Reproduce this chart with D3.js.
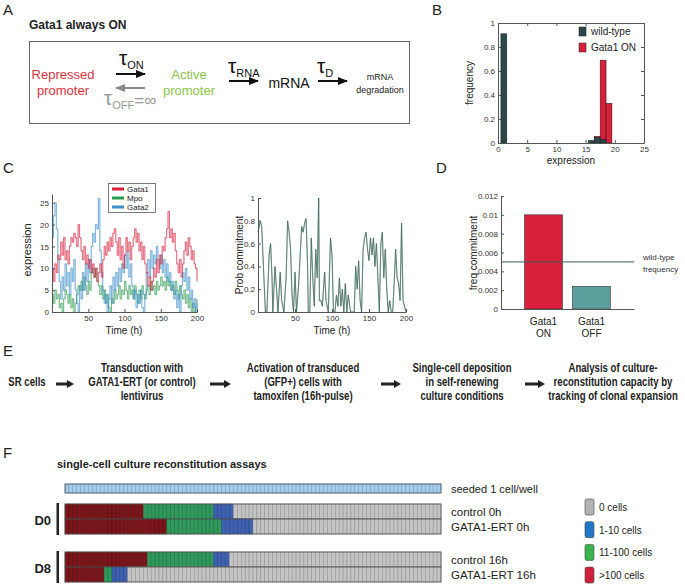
<!DOCTYPE html>
<html>
<head>
<meta charset="utf-8">
<script src="https://cdn.jsdelivr.net/npm/d3@7"></script>
<style>
body{margin:0;background:#fff}
svg{font-family:"Liberation Sans",Arial,sans-serif}
.ax path,.ax line{stroke:#555}
.ax text{fill:#333;font-size:8px}
</style>
</head>
<body>
<div id="fig"></div>
<script>
// ---- panel B: expression histogram
var histWtBins = [1, 16, 17, 18];
var histWtFreq = [0.91, 0.02, 0.045, 0.03];
var histOnBins = [17, 18, 19];
var histOnFreq = [0.055, 0.69, 0.33];
var histLegend = ["wild-type", "Gata1 ON"];

// ---- panel C: simulated expression (sampled every 2 h, 0..200 h)
var gata1Expr = [10,7,11,9,13,12,16,13,17,12,14,11,15,17,16,18,17,15,20,17,14,12,15,11,13,10,12,9,11,8,10,7,9,11,8,12,15,13,16,14,17,15,18,19,16,13,17,12,15,10,13,17,14,16,12,15,17,19,16,18,14,16,12,15,11,9,6,8,5,7,10,8,12,9,13,11,15,14,17,19,23,17,19,16,18,14,11,9,12,8,11,14,16,13,17,15,12,14,11,10,7];
var mpoExpr = [4,2,5,3,4,1,2,0,3,5,4,2,4,1,3,0,2,4,6,5,7,5,8,6,4,7,5,9,10,8,10,7,6,4,6,3,5,2,4,1,0,3,2,5,3,4,6,3,5,4,7,5,3,6,4,5,3,6,4,2,5,3,6,4,3,5,6,4,7,5,6,4,7,5,6,8,6,7,5,8,6,7,5,6,4,7,5,3,6,4,3,5,2,4,1,3,0,2,0,1,3];
var gata2Expr = [17,22,25,19,12,7,3,8,5,11,6,9,4,10,7,12,5,2,0,6,3,9,5,11,7,12,9,15,18,16,20,19,26,14,9,5,2,4,0,3,6,2,8,5,9,6,10,7,11,9,13,10,14,8,11,6,3,5,1,4,2,5,1,0,4,9,12,8,14,10,13,11,15,12,10,13,9,12,8,11,7,9,5,7,3,5,1,4,0,6,9,7,10,5,8,3,5,1,3,0,2];
var exprSeries = ["Gata1", "Mpo", "Gata2"];

// ---- panel C: probability of commitment
var probTime = [0,3,5,8,10,12,15,17,19,20,23,25,27,30,32,35,38,40,42,44,46,48,50,52,55,57,59,61,63,65,67,68,70,72,74,76,78,80,82,83,85,87,90,92,95,98,100,102,104,106,108,110,112,114,116,118,120,122,125,128,130,132,134,136,138,140,142,144,146,148,150,152,154,156,158,160,162,164,166,168,170,172,174,176,178,180,182,184,186,188,190,192,194,196,198,200];
var probValue = [0.7,0.8,0.75,0.3,0,0,0.5,0.6,0.3,0,0.4,0.2,0,0.35,0.1,0,0.3,0.8,0.7,0.55,0.15,0,0.35,0,0.25,0.5,0.75,0.7,0.78,0.82,0.4,0,0,0.65,0.3,0.05,0.55,0.3,1.0,0.1,0.1,0.05,0.35,0.1,0,0.65,0.5,0,0,0.15,0.05,0.3,0.05,0.2,0,0.25,0,0.15,0,0,0,0.4,0.2,0.45,0.1,0,0.55,0.65,0.7,0.55,0.45,0.65,0.5,0.65,0.4,0.6,0.3,0,0.6,0.7,0.3,0.55,0.2,0,0.1,0,0,0.25,0.55,0.3,0.25,0.1,0.78,0.1,0.05,0];

// ---- panel D: commitment frequency
var commitCats = ["Gata1 ON", "Gata1 OFF"];
var commitFreq = [0.01, 0.0024];
var wildTypeFreq = 0.005;

// ---- panel E: protocol steps
var protocolSteps = [
    ["SR cells"],
    ["Transduction with", "GATA1-ERT (or control)", "lentivirus"],
    ["Activation of transduced", "(GFP+) cells with", "tamoxifen (16h-pulse)"],
    ["Single-cell deposition", "in self-renewing", "culture conditions"],
    ["Analysis of culture-", "reconstitution capacity by", "tracking of clonal expansion"]
];

// ---- panel F: wells per class (96 wells per row)
var nWells = 96;
var assayRows = ["control 0h", "GATA1-ERT 0h", "control 16h", "GATA1-ERT 16h"];
var wellsOver100 = [20, 26, 21, 10];
var wells11to100 = [18, 14, 17, 2];
var wells1to10 = [5, 8, 4, 4];
var wellClasses = ["0 cells", "1-10 cells", "11-100 cells", ">100 cells"];

var red = "#d81f3b", darkTeal = "#2c4747";

var svg = d3.select("#fig").append("svg")
    .attr("width", 685).attr("height", 588);

var defs = svg.append("defs");
[["arBlack", "#111"], ["arGrey", "#888"]].forEach(function (m) {
    defs.append("marker").attr("id", m[0])
        .attr("viewBox", "0 0 10 8").attr("refX", 9).attr("refY", 4)
        .attr("markerWidth", 5).attr("markerHeight", 4).attr("orient", "auto")
        .append("path").attr("d", "M0,0L10,4L0,8z").attr("fill", m[1]);
});

// panel letters
[["A", 3, 15], ["B", 432, 15], ["C", 3, 173], ["D", 436, 173], ["E", 3, 356], ["F", 3, 458]].forEach(function (l) {
    svg.append("text").attr("x", l[1]).attr("y", l[2]).attr("font-size", 15).attr("fill", "#222").text(l[0]);
});

// ================= A: diagram
svg.append("text").attr("x", 29).attr("y", 29).attr("font-size", 12).attr("font-weight", "bold")
    .attr("fill", "#222").text("Gata1 always ON");
svg.append("rect").attr("x", 29.5).attr("y", 41.5).attr("width", 380).attr("height", 82)
    .attr("fill", "none").attr("stroke", "#666");

function twoLines(x, y1, y2, a, b, col, fs, anchor) {
    var t = svg.append("text").attr("text-anchor", anchor || "middle").attr("font-size", fs).attr("fill", col);
    t.append("tspan").attr("x", x).attr("y", y1).text(a);
    t.append("tspan").attr("x", x).attr("y", y2).text(b);
}
twoLines(63, 79, 95, "Repressed", "promoter", "#e0303e", 13);
twoLines(189, 79, 95, "Active", "promoter", "#8cc34b", 13);
twoLines(380, 80, 93, "mRNA", "degradation", "#222", 9);
svg.append("text").attr("x", 289).attr("y", 88).attr("text-anchor", "middle").attr("font-size", 14)
    .attr("fill", "#111").text("mRNA");

function tau(x, y, sub, col) {
    var t = svg.append("text").attr("x", x).attr("y", y).attr("fill", col);
    t.append("tspan").attr("font-size", 21).text("τ");
    t.append("tspan").attr("font-size", 11).attr("dy", 4).text(sub);
    return t;
}
tau(119, 65, "ON", "#111");
tau(228, 73, "RNA", "#111");
tau(317, 73, "D", "#111");
var toff = tau(104, 105, "OFF", "#999");
toff.append("tspan").attr("font-size", 17).attr("dy", -3).text("=∞");

function arrow(x1, x2, y, mk, col) {
    svg.append("line").attr("x1", x1).attr("x2", x2).attr("y1", y).attr("y2", y)
        .attr("stroke", col).attr("stroke-width", 2).attr("marker-end", "url(#" + mk + ")");
}
arrow(116, 145, 74, "arBlack", "#111");
arrow(145, 116, 88, "arGrey", "#888");
arrow(229, 258, 81, "arBlack", "#111");
arrow(318, 347, 81, "arBlack", "#111");

// ================= B: histogram
var bx = d3.scaleLinear().domain([0, 25]).range([498, 644]);
var by = d3.scaleLinear().domain([0, 1]).range([143, 23]);
function frame(g, x, y, xt, yt) {
    g.append("g").attr("class", "ax").attr("transform", "translate(0," + y.range()[0] + ")")
        .call(d3.axisBottom(x).tickValues(xt).tickSizeInner(-3).tickSizeOuter(0).tickPadding(3));
    g.append("g").attr("class", "ax").attr("transform", "translate(" + x.range()[0] + ",0)")
        .call(d3.axisLeft(y).tickValues(yt).tickSizeInner(-3).tickSizeOuter(0).tickPadding(3).tickFormat(d3.format("~g")));
}
var gB = svg.append("g");
histOnBins.forEach(function (b, i) {
    gB.append("rect").attr("x", bx(b - 0.5)).attr("width", bx(b + 0.5) - bx(b - 0.5))
        .attr("y", by(histOnFreq[i])).attr("height", by(0) - by(histOnFreq[i]))
        .attr("fill", red).attr("stroke", "#3a1a1a").attr("stroke-width", 0.6);
});
histWtBins.forEach(function (b, i) {
    gB.append("rect").attr("x", bx(b - 0.5)).attr("width", bx(b + 0.5) - bx(b - 0.5))
        .attr("y", by(histWtFreq[i])).attr("height", by(0) - by(histWtFreq[i]))
        .attr("fill", darkTeal).attr("stroke", "#1a2a2a").attr("stroke-width", 0.6);
});
frame(gB, bx, by, [0, 5, 10, 15, 20, 25], [0, 0.2, 0.4, 0.6, 0.8, 1]);
gB.append("g").attr("class", "ax").attr("transform", "translate(0,23)")
    .call(d3.axisTop(bx).tickValues([0, 5, 10, 15, 20, 25]).tickSizeInner(-3).tickSizeOuter(0).tickFormat(""));
gB.append("g").attr("class", "ax").attr("transform", "translate(644,0)")
    .call(d3.axisRight(by).tickValues([0, 0.2, 0.4, 0.6, 0.8, 1]).tickSizeInner(-3).tickSizeOuter(0).tickFormat(""));
histLegend.forEach(function (name, i) {
    gB.append("rect").attr("x", 579).attr("y", 27 + i * 16).attr("width", 7).attr("height", 9)
        .attr("fill", i ? red : darkTeal).attr("stroke", "#222").attr("stroke-width", 0.5);
    gB.append("text").attr("x", 591).attr("y", 35 + i * 16).attr("font-size", 10).attr("fill", "#222").text(name);
});
gB.append("text").attr("x", 571).attr("y", 164).attr("text-anchor", "middle").attr("font-size", 10).attr("fill", "#222").text("expression");
gB.append("text").attr("transform", "translate(473,83) rotate(-90)").attr("text-anchor", "middle")
    .attr("font-size", 10).attr("fill", "#222").text("frequency");

// ================= C left: expression traces
var tGrid = d3.range(0, 201, 2); // sampling grid of the traces
var cx = d3.scaleLinear().domain([0, 200]).range([52, 197]);
var cy = d3.scaleLinear().domain([0, 27]).range([312, 194]);
var gC = svg.append("g");
var cColors = {Gata1: red, Mpo: "#2a9a4e", Gata2: "#3d8fc9"};
var cData = {Gata1: gata1Expr, Mpo: mpoExpr, Gata2: gata2Expr};
var exprLine = d3.line().curve(d3.curveStepAfter)
    .x(function (d, i) { return cx(tGrid[i]); })
    .y(function (d) { return cy(d); });
["Mpo", "Gata2", "Gata1"].forEach(function (name) {
    gC.append("path").attr("d", exprLine(cData[name])).attr("fill", "none")
        .attr("stroke", cColors[name]).attr("stroke-width", 1.2).attr("stroke-opacity", 0.3);
    gC.append("path").attr("d", exprLine(cData[name])).attr("fill", "none")
        .attr("stroke", cColors[name]).attr("stroke-width", 0.6).attr("stroke-opacity", 0.85);
});
frame(gC, cx, cy, [50, 100, 150, 200], [0, 5, 10, 15, 20, 25]);
gC.append("rect").attr("x", 108.5).attr("y", 183.5).attr("width", 47).attr("height", 29)
    .attr("fill", "#fff").attr("stroke", "#444").attr("stroke-width", 0.7);
exprSeries.forEach(function (name, i) {
    gC.append("line").attr("x1", 112).attr("x2", 124).attr("y1", 189 + i * 9).attr("y2", 189 + i * 9)
        .attr("stroke", cColors[name]).attr("stroke-width", 3);
    gC.append("text").attr("x", 127).attr("y", 192 + i * 9).attr("font-size", 8).attr("fill", "#222").text(name);
});
gC.append("text").attr("transform", "translate(31,250) rotate(-90)").attr("text-anchor", "middle")
    .attr("font-size", 11).attr("fill", "#222").text("expression");
gC.append("text").attr("x", 124).attr("y", 334).attr("text-anchor", "middle").attr("font-size", 10)
    .attr("fill", "#222").text("Time (h)");

// ================= C right: prob commitment
var px = d3.scaleLinear().domain([0, 200]).range([258, 406]);
var py = d3.scaleLinear().domain([0, 1]).range([312, 198]);
var gP = svg.append("g");
var probLine = d3.line()
    .x(function (d, i) { return px(probTime[i]); })
    .y(function (d) { return py(d); });
gP.append("path").attr("d", probLine(probValue)).attr("fill", "none")
    .attr("stroke", "#aabfb6").attr("stroke-width", 1.2);
gP.append("path").attr("d", probLine(probValue)).attr("fill", "none")
    .attr("stroke", "#2f5a4c").attr("stroke-width", 0.6);
frame(gP, px, py, [50, 100, 150, 200], [0, 0.2, 0.4, 0.6, 0.8, 1]);
gP.append("text").attr("transform", "translate(243,255) rotate(-90)").attr("text-anchor", "middle")
    .attr("font-size", 10).attr("fill", "#222").text("Prob commitment");
gP.append("text").attr("x", 332).attr("y", 334).attr("text-anchor", "middle").attr("font-size", 10)
    .attr("fill", "#222").text("Time (h)");

// ================= D: commitment bars
var dx = d3.scaleBand().domain(commitCats).range([501, 634]).paddingInner(0.21).paddingOuter(0.49);
var dy = d3.scaleLinear().domain([0, 0.012]).range([309, 196]);
var gD = svg.append("g");
gD.selectAll("rect.bar").data(commitCats).enter().append("rect")
    .attr("x", function (d) { return dx(d); })
    .attr("width", dx.bandwidth())
    .attr("y", function (d, i) { return dy(commitFreq[i]); })
    .attr("height", function (d, i) { return dy(0) - dy(commitFreq[i]); })
    .attr("fill", function (d, i) { return i ? "#5c9e9c" : red; })
    .attr("stroke", "#333").attr("stroke-width", 0.6);
gD.append("g").attr("class", "ax").attr("transform", "translate(0,309)")
    .call(d3.axisBottom(dx).tickSize(0).tickFormat(""));
gD.append("g").attr("class", "ax").attr("transform", "translate(501,0)")
    .call(d3.axisLeft(dy).tickValues([0, 0.002, 0.004, 0.006, 0.008, 0.01, 0.012])
        .tickSizeInner(-3).tickSizeOuter(0).tickPadding(3).tickFormat(d3.format("~g")));
gD.append("line").attr("x1", 501).attr("x2", 634).attr("y1", dy(wildTypeFreq)).attr("y2", dy(wildTypeFreq))
    .attr("stroke", "#3c5e55").attr("stroke-width", 1);
twoLines(643, 260, 272, "wild-type", "frequency", "#333", 8, "start");
commitCats.forEach(function (c) {
    var parts = c.split(" ");
    twoLines(dx(c) + dx.bandwidth() / 2, 325, 337, parts[0], parts[1], "#222", 10);
});
gD.append("text").attr("transform", "translate(477,253) rotate(-90)").attr("text-anchor", "middle")
    .attr("font-size", 10).attr("fill", "#222").text("freq commitment");

// ================= E: protocol (condensed bold text)
var stepCenters = [27, 142, 303, 462, 613];
var arrowSpans = [[56, 74], [210, 231], [381, 401], [525, 545]];
protocolSteps.forEach(function (lines, i) {
    var t = svg.append("text").attr("text-anchor", "middle").attr("font-weight", "bold")
        .attr("transform", "translate(" + stepCenters[i] + ",0) scale(0.8,1)")
        .attr("font-size", 12).attr("fill", "#222");
    var y0 = lines.length === 1 ? 386 : 372;
    lines.forEach(function (s, j) {
        t.append("tspan").attr("x", 0).attr("y", y0 + j * 14).text(s);
    });
});
arrowSpans.forEach(function (a) {
    var y = 384;
    svg.append("path").attr("fill", "#222")
        .attr("d", "M" + a[0] + "," + (y - 1.5) + "L" + (a[1] - 7) + "," + (y - 1.5) + "L" + (a[1] - 7) + "," + (y - 4)
            + "L" + a[1] + "," + y + "L" + (a[1] - 7) + "," + (y + 4) + "L" + (a[1] - 7) + "," + (y + 1.5)
            + "L" + a[0] + "," + (y + 1.5) + "Z");
});

// ================= F: wells
svg.append("text").attr("x", 57).attr("y", 468).attr("font-size", 11).attr("font-weight", "bold")
    .attr("fill", "#222").text("single-cell culture reconstitution assays");
var fx = d3.scaleLinear().domain([0, nWells]).range([65, 441]);
var cellCols = {
    seeded: ["#a4cbea", "#6f9cc5"],
    over: ["#7c1519", "#4c0a0c"],
    mid: ["#2f9a5c", "#1e6b3f"],
    low: ["#3d60b1", "#283f80"],
    zero: ["#c4c4c4", "#8c8c8c"]
};
function wellRow(y, h, classes) {
    var g = svg.append("g");
    g.selectAll("rect").data(classes).enter().append("rect")
        .attr("x", function (d, i) { return fx(i); })
        .attr("width", fx(1) - fx(0))
        .attr("y", y).attr("height", h)
        .attr("fill", function (d) { return cellCols[d][0]; })
        .attr("stroke", function (d) { return cellCols[d][1]; })
        .attr("stroke-width", 0.5);
    g.append("rect").attr("x", fx(0)).attr("y", y).attr("width", fx(nWells) - fx(0)).attr("height", h)
        .attr("fill", "none").attr("stroke", "#555").attr("stroke-width", 0.8);
}
wellRow(484, 9, d3.range(nWells).map(function () { return "seeded"; }));
var rowTops = [504, 519, 552, 567];
assayRows.forEach(function (name, r) {
    var cls = [];
    for (var i = 0; i < nWells; i++) {
        if (i < wellsOver100[r]) cls.push("over");
        else if (i < wellsOver100[r] + wells11to100[r]) cls.push("mid");
        else if (i < wellsOver100[r] + wells11to100[r] + wells1to10[r]) cls.push("low");
        else cls.push("zero");
    }
    wellRow(rowTops[r], 15, cls);
    svg.append("text").attr("x", 451).attr("y", rowTops[r] + 12).attr("font-size", 11.5)
        .attr("fill", "#222").text(name);
});
svg.append("text").attr("x", 451).attr("y", 493).attr("font-size", 11).attr("fill", "#222").text("seeded 1 cell/well");
[["D0", 504], ["D8", 552]].forEach(function (d) {
    svg.append("rect").attr("x", 56.5).attr("y", d[1] - 1).attr("width", 2.5).attr("height", 32).attr("fill", "#222");
    svg.append("text").attr("x", 51).attr("y", d[1] + 21).attr("text-anchor", "end").attr("font-size", 13)
        .attr("font-weight", "bold").attr("fill", "#222").text(d[0]);
});
var legendCols = ["#b3b3b3", "#1f78c6", "#3cb24e", "#d0213a"];
wellClasses.forEach(function (name, i) {
    svg.append("rect").attr("x", 585).attr("y", 499 + i * 22.7).attr("width", 9).attr("height", 16)
        .attr("rx", 2).attr("fill", legendCols[i]).attr("stroke", "#444").attr("stroke-width", 0.6);
    svg.append("text").attr("x", 599).attr("y", 511 + i * 22.7).attr("font-size", 10)
        .attr("fill", "#222").text(name);
});
</script>
</body>
</html>
